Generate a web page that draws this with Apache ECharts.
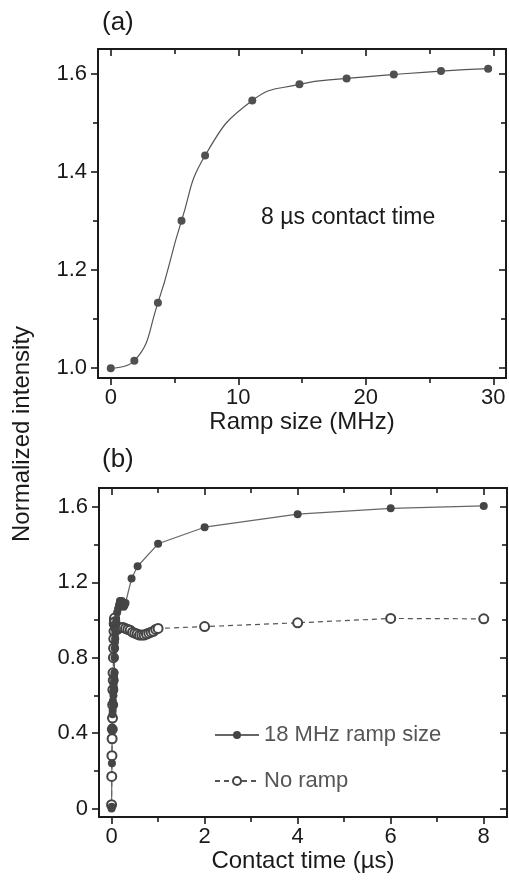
<!DOCTYPE html>
<html>
<head>
<meta charset="utf-8">
<script src="https://cdn.jsdelivr.net/npm/echarts@6/dist/echarts.min.js"></script>
<style>html,body{margin:0;padding:0;background:#fff}#c{width:509px;height:880px}</style>
</head>
<body>
<div id="c"></div>
<script>
// Panel (a): ramp size (MHz) vs normalized intensity, 8 us contact time
const rampSize = [0, 1.85, 3.7, 5.55, 7.4, 11.1, 14.8, 18.5, 22.2, 25.9, 29.6];
const rampIntensity = [1.0, 1.015, 1.133, 1.30, 1.433, 1.545, 1.578, 1.59, 1.598, 1.605, 1.61];

// Panel (b): contact time (us), 18 MHz ramp size
const ctRamp = [0, 0.004, 0.008, 0.012, 0.016, 0.02, 0.024, 0.028, 0.032, 0.036, 0.04, 0.044, 0.048, 0.052, 0.056, 0.06, 0.064, 0.068, 0.072, 0.076, 0.08, 0.09, 0.1, 0.12, 0.14, 0.16, 0.18, 0.2, 0.22, 0.24, 0.26, 0.28, 0.3, 0.43, 0.56, 1, 2, 4, 6, 8];
const intRamp = [0.0, 0.01, 0.24, 0.43, 0.42, 0.5, 0.52, 0.57, 0.55, 0.62, 0.6, 0.66, 0.64, 0.7, 0.68, 0.72, 0.8, 0.85, 0.88, 0.9, 0.93, 0.97, 1.0, 1.04, 1.06, 1.08, 1.1, 1.09, 1.1, 1.08, 1.07, 1.08, 1.09, 1.22, 1.285, 1.404, 1.492, 1.561, 1.592, 1.605];

// Panel (b): no ramp
const ctNoRamp = [0, 0.004, 0.008, 0.012, 0.016, 0.02, 0.024, 0.028, 0.032, 0.036, 0.04, 0.044, 0.048, 0.052, 0.056, 0.06, 0.065, 0.07, 0.08, 0.09, 0.1, 0.12, 0.15, 0.2, 0.25, 0.3, 0.35, 0.4, 0.45, 0.5, 0.55, 0.6, 0.65, 0.7, 0.75, 0.8, 0.85, 0.9, 0.95, 1, 2, 4, 6, 8];
const intNoRamp = [0.02, 0.17, 0.28, 0.37, 0.42, 0.48, 0.55, 0.63, 0.72, 0.68, 0.8, 0.85, 0.9, 0.94, 0.98, 1.0, 1.01, 0.99, 0.97, 0.96, 0.955, 0.95, 0.955, 0.96, 0.96, 0.955, 0.95, 0.945, 0.935, 0.93, 0.925, 0.92, 0.92, 0.92, 0.925, 0.93, 0.935, 0.94, 0.95, 0.955, 0.965, 0.985, 1.008, 1.006];

// Tick values
const aXMajor = [0, 10, 20, 30], aXMinor = [5, 15, 25];
const aYMajor = [1.0, 1.2, 1.4, 1.6], aYMinor = [1.1, 1.3, 1.5];
const bXMajor = [0, 2, 4, 6, 8], bXMinor = [1, 3, 5, 7];
const bYMajor = [0, 0.4, 0.8, 1.2, 1.6], bYMinor = [0.2, 0.6, 1.0, 1.4];

const FONT = 'Liberation Sans, Arial, Helvetica, sans-serif';
const INK = '#1a1a1a';

function zip(a, b) { return a.map((v, i) => [v, b[i]]); }

function makeAxis(kind, grid, pos, min, max, vals, len, inside, labels, fmt, extra) {
  const ax = {
    type: 'value', gridIndex: grid, position: pos, min: min, max: max,
    splitLine: {show: false},
    axisLine: {show: true, onZero: false, lineStyle: {color: INK, width: 2}},
    axisTick: {show: true, inside: inside, length: len, customValues: vals, lineStyle: {color: INK, width: 1.6}},
    axisLabel: {show: labels, customValues: vals, formatter: fmt, fontFamily: FONT, fontSize: 22, color: INK, margin: kind === 'x' ? 9 : 11},
    minorTick: {show: false}
  };
  return Object.assign(ax, extra || {});
}

const fmtA = v => v.toFixed(1);
const fmtB = v => (v === 0 ? '0' : v.toFixed(1));
const fmtInt = v => String(Math.round(v));

const nameStyle = {fontFamily: FONT, fontSize: 24, color: INK};

const xAxes = [
  makeAxis('x', 0, 'bottom', -1, 31, aXMajor, 7, false, true, fmtInt,
    {name: 'Ramp size (MHz)', nameLocation: 'middle', nameGap: 31, nameTextStyle: nameStyle}),
  makeAxis('x', 0, 'bottom', -1, 31, aXMinor, 5, false, false, fmtInt),
  makeAxis('x', 0, 'top', -1, 31, aXMajor, 7, true, false, fmtInt),
  makeAxis('x', 0, 'top', -1, 31, aXMinor, 5, true, false, fmtInt),
  makeAxis('x', 1, 'bottom', -0.27, 8.5, bXMajor, 7, false, true, fmtInt,
    {name: 'Contact time (\u00b5s)', nameLocation: 'middle', nameGap: 31, nameTextStyle: nameStyle}),
  makeAxis('x', 1, 'bottom', -0.27, 8.5, bXMinor, 5, false, false, fmtInt),
  makeAxis('x', 1, 'top', -0.27, 8.5, bXMajor, 7, true, false, fmtInt),
  makeAxis('x', 1, 'top', -0.27, 8.5, bXMinor, 5, true, false, fmtInt)
];
const yAxes = [
  makeAxis('y', 0, 'left', 0.98, 1.65, aYMajor, 7, false, true, fmtA),
  makeAxis('y', 0, 'left', 0.98, 1.65, aYMinor, 5, false, false, fmtA),
  makeAxis('y', 0, 'right', 0.98, 1.65, aYMajor, 7, true, false, fmtA),
  makeAxis('y', 0, 'right', 0.98, 1.65, aYMinor, 5, true, false, fmtA),
  makeAxis('y', 1, 'left', -0.045, 1.7, bYMajor, 7, false, true, fmtB),
  makeAxis('y', 1, 'left', -0.045, 1.7, bYMinor, 5, false, false, fmtB),
  makeAxis('y', 1, 'right', -0.045, 1.7, bYMajor, 7, true, false, fmtB),
  makeAxis('y', 1, 'right', -0.045, 1.7, bYMinor, 5, true, false, fmtB)
];

const chart = echarts.init(document.getElementById('c'), null, {renderer: 'canvas'});
chart.setOption({
  animation: false,
  backgroundColor: '#fff',
  grid: [
    {left: 98, top: 49, width: 408, height: 329},
    {left: 99, top: 488, width: 408, height: 329}
  ],
  xAxis: xAxes,
  yAxis: yAxes,
  legend: {
    orient: 'vertical', left: 209, top: 719, itemWidth: 44, itemHeight: 10, itemGap: 24,
    textStyle: {fontFamily: FONT, fontSize: 22, color: '#555'},
    data: ['18 MHz ramp size', 'No ramp']
  },
  graphic: [
    {type: 'text', left: 102, top: 10, style: {text: '(a)', font: '26px ' + FONT, fill: INK}},
    {type: 'text', left: 102, top: 447, style: {text: '(b)', font: '26px ' + FONT, fill: INK}},
    {type: 'text', left: 261, top: 206, style: {text: '8 \u00b5s contact time', font: '23px ' + FONT, fill: INK}},
    {type: 'text', x: 10, y: 542, rotation: Math.PI / 2, style: {text: 'Normalized intensity', font: '24px ' + FONT, fill: INK}}
  ],
  series: [
    {
      name: '8 us', type: 'line', xAxisIndex: 0, yAxisIndex: 0,
      data: zip(rampSize, rampIntensity), smooth: 0.5,
      symbol: 'circle', symbolSize: 8,
      itemStyle: {color: '#505050'},
      lineStyle: {color: '#555', width: 1.2}
    },
    {
      name: 'No ramp', type: 'line', xAxisIndex: 4, yAxisIndex: 4,
      data: zip(ctNoRamp, intNoRamp),
      symbol: 'emptyCircle', symbolSize: 9,
      itemStyle: {color: '#444', borderColor: '#444', borderWidth: 1.4},
      lineStyle: {color: '#555', width: 1.2, type: [5, 4]}
    },
    {
      name: '18 MHz ramp size', type: 'line', xAxisIndex: 4, yAxisIndex: 4,
      data: zip(ctRamp, intRamp),
      symbol: 'circle', symbolSize: 8,
      itemStyle: {color: '#454545'},
      lineStyle: {color: '#666', width: 1.2}
    }
  ]
});
</script>
</body>
</html>
